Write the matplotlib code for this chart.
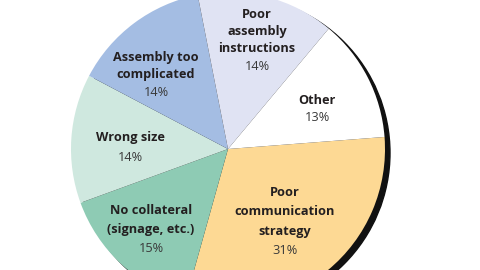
import matplotlib
matplotlib.use("Agg")
import matplotlib.pyplot as plt
from matplotlib.patches import Circle

# Data (clockwise from the right, starting at the Other / Poor communication border)
categories = ["Poor\ncommunication\nstrategy", "No collateral\n(signage, etc.)", "Wrong size",
              "Assembly too\ncomplicated", "Poor\nassembly\ninstructions", "Other"]
shares = [30.6, 15.1, 13.3, 14.2, 14.2, 12.7]
pct_labels = ["31%", "15%", "14%", "14%", "14%", "13%"]
colors = ["#fdd994", "#8ecbb4", "#cfe8df", "#a4bde3", "#e0e3f3", "#ffffff"]

fig = plt.figure(figsize=(4.8, 2.7), dpi=100)
ax = fig.add_axes([0, 0, 1, 1])

cx, cy, r = 228, 121, 157
# shadow
ax.add_patch(Circle((cx + 5, cy - 4), r, color="#111111", zorder=1))
wedges, _ = ax.pie(shares, colors=colors, startangle=4.4, counterclock=False,
                   center=(cx, cy), radius=r, frame=True,
                   wedgeprops=dict(linewidth=0))
for w in wedges:
    w.set_zorder(2)
ax.set_xlim(0, 480)
ax.set_ylim(0, 270)
ax.set_aspect("equal")
ax.axis("off")

# label positions in pixel coords (x, y of first line from top), line spacing
label_pos = [(285, 192, 19.5), (151, 210, 19.5), (130, 138, 19.5),
             (156, 57, 17.5), (257, 14, 17.5), (317, 100, 17.5)]
font = "Open Sans"
fs = 9.2
for cat, pct, (x, ytop, sp) in zip(categories, pct_labels, label_pos):
    lines = cat.split("\n")
    for i, ln in enumerate(lines):
        ax.text(x, 270 - (ytop + i * sp), ln, ha="center", va="center",
                fontsize=fs, fontweight="bold", color="#231f20",
                family=font, zorder=5)
    ax.text(x, 270 - (ytop + len(lines) * sp), pct, ha="center", va="center",
            fontsize=fs, color="#3a3a3a", family=font, zorder=5)

fig.savefig("out.png", dpi=100)
